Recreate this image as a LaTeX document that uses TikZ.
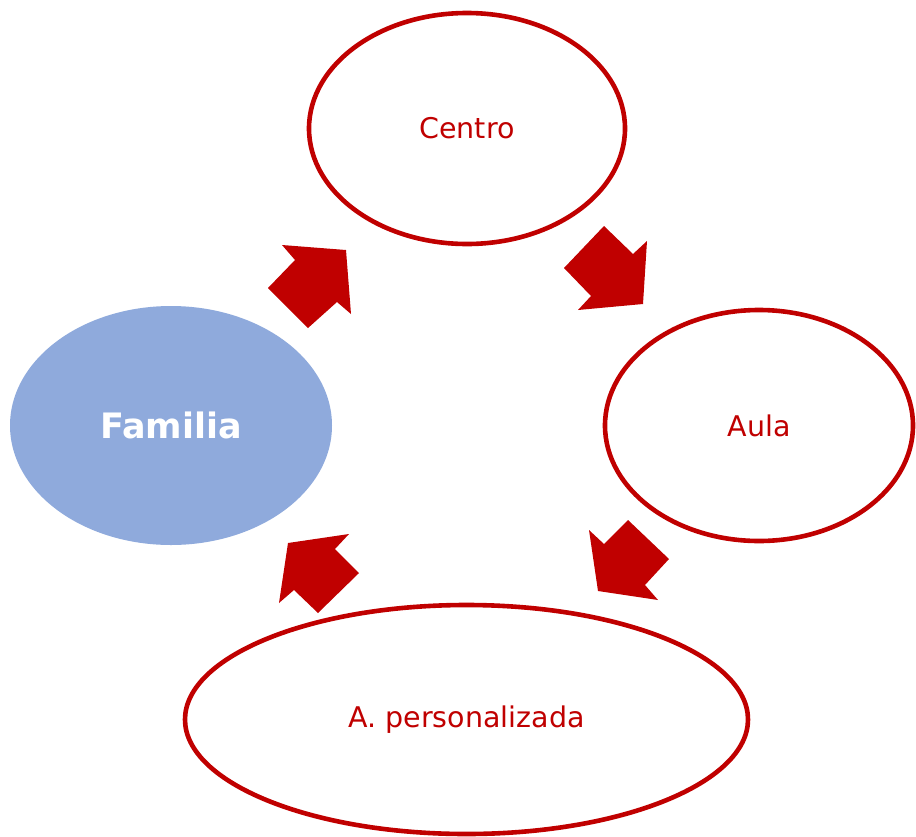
\documentclass[tikz,border=0pt]{standalone}
\usepackage{fontspec}
\setmainfont{DejaVu Sans}
\usetikzlibrary{shapes.geometric}
\definecolor{darkred}{HTML}{C00000}
\definecolor{famblue}{HTML}{8FAADC}
\begin{document}
\begin{tikzpicture}[x=1pt,y=-1pt,
  ring/.style={ellipse, draw=darkred, line width=4.6pt, fill=white, inner sep=0pt,
    text=darkred, font=\fontsize{28.5}{32}\selectfont},
  famnode/.style={ellipse, fill=famblue, inner sep=0pt, text=white,
    font=\bfseries\fontsize{35}{40}\selectfont},
  blockarrow/.style={fill=darkred}]
\useasboundingbox (0,0) rectangle (916,836);
\node[ring, minimum width=316pt, minimum height=231pt] (centro) at (467,128.5) {Centro};
\node[ring, minimum width=308pt, minimum height=231pt] (aula) at (759,425.5) {Aula};
\node[ring, minimum width=563pt, minimum height=229pt] (apers) at (466.5,719.5) {A. personalizada};
\node[famnode, minimum width=322pt, minimum height=239pt] (familia) at (171,425.5) {Familia};
% block arrows
\fill[blockarrow] (282,245) -- (346,250) -- (351,314) -- (337,302) -- (308,328) -- (268,288) -- (295,260) -- cycle;
\fill[blockarrow] (604,226) -- (633,254) -- (647,241) -- (643,304) -- (578,310) -- (591,296) -- (564,268) -- cycle;
\fill[blockarrow] (628,520) -- (669,559) -- (645,585) -- (658,600) -- (598,591) -- (589,530) -- (604,544) -- cycle;
\fill[blockarrow] (349,534) -- (335,549) -- (359,573) -- (318,613) -- (294,590) -- (279,603) -- (288,543) -- cycle;
\end{tikzpicture}
\end{document}
